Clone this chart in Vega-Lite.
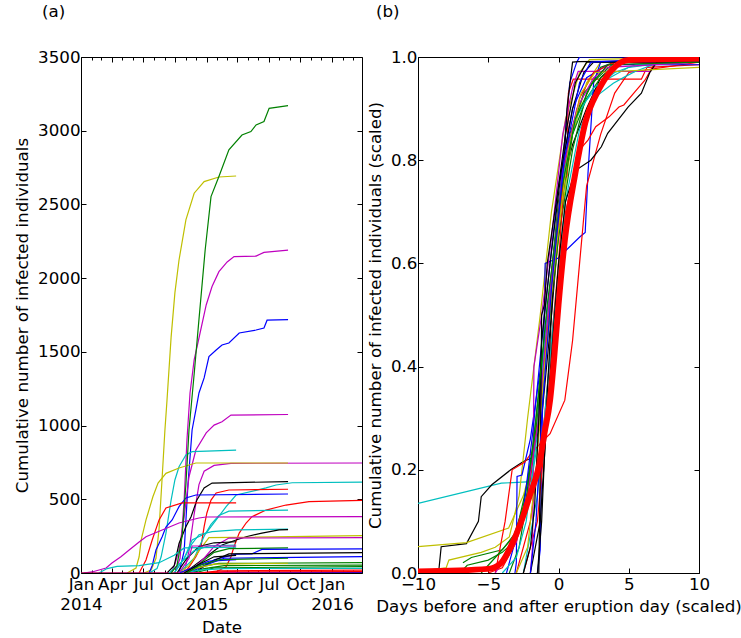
{
  "$schema": "https://vega.github.io/schema/vega-lite/v6.json",
  "padding": {"left": 14, "top": 3, "right": 0, "bottom": 0},
  "spacing": 3,
  "config": {
    "font": "DejaVu Sans",
    "view": {"stroke": "#000000", "strokeWidth": 1},
    "axis": {
      "labelFont": "DejaVu Sans", "labelFontSize": 16.7, "labelColor": "#000000",
      "titleFont": "DejaVu Sans", "titleFontSize": 16.7, "titleFontWeight": "normal", "titleColor": "#000000",
      "tickColor": "#000000", "tickWidth": 1, "domain": false, "grid": false, "labelOverlap": false, "labelFlush": false
    },
    "title": {"font": "DejaVu Sans", "fontSize": 16.7, "fontWeight": "normal", "color": "#000000"}
  },
  "datasets": {
    "pa": [
      {"s":"A1","d":"2014-09-20","v":0},{"s":"A1","d":"2014-10-07","v":50},{"s":"A1","d":"2014-10-22","v":250},{"s":"A1","d":"2014-11-02","v":600},{"s":"A1","d":"2014-11-11","v":970},{"s":"A1","d":"2014-11-26","v":1350},{"s":"A1","d":"2014-12-10","v":1720},{"s":"A1","d":"2014-12-28","v":2191},{"s":"A1","d":"2015-01-14","v":2553},{"s":"A1","d":"2015-02-06","v":2689},{"s":"A1","d":"2015-03-07","v":2870},{"s":"A1","d":"2015-04-14","v":2971},{"s":"A1","d":"2015-05-10","v":2994},{"s":"A1","d":"2015-05-25","v":3039},{"s":"A1","d":"2015-06-17","v":3062},{"s":"A1","d":"2015-07-02","v":3152},{"s":"A1","d":"2015-08-26","v":3170},
      {"s":"A2","d":"2014-07-03","v":0},{"s":"A2","d":"2014-07-24","v":20},{"s":"A2","d":"2014-08-07","v":100},{"s":"A2","d":"2014-08-16","v":300},{"s":"A2","d":"2014-08-25","v":650},{"s":"A2","d":"2014-09-02","v":970},{"s":"A2","d":"2014-09-08","v":1170},{"s":"A2","d":"2014-09-20","v":1600},{"s":"A2","d":"2014-10-01","v":1900},{"s":"A2","d":"2014-10-13","v":2123},{"s":"A2","d":"2014-11-02","v":2395},{"s":"A2","d":"2014-11-26","v":2576},{"s":"A2","d":"2014-12-25","v":2655},{"s":"A2","d":"2015-02-06","v":2686},{"s":"A2","d":"2015-03-28","v":2693},
      {"s":"A3","d":"2014-10-01","v":0},{"s":"A3","d":"2014-10-16","v":100},{"s":"A3","d":"2014-10-28","v":500},{"s":"A3","d":"2014-11-05","v":900},{"s":"A3","d":"2014-11-14","v":1221},{"s":"A3","d":"2014-11-26","v":1445},{"s":"A3","d":"2014-12-10","v":1594},{"s":"A3","d":"2014-12-31","v":1818},{"s":"A3","d":"2015-01-17","v":1943},{"s":"A3","d":"2015-02-06","v":2044},{"s":"A3","d":"2015-03-02","v":2110},{"s":"A3","d":"2015-03-22","v":2146},{"s":"A3","d":"2015-05-25","v":2150},{"s":"A3","d":"2015-06-17","v":2175},{"s":"A3","d":"2015-08-26","v":2190},
      {"s":"A4","d":"2014-10-13","v":0},{"s":"A4","d":"2014-10-28","v":150},{"s":"A4","d":"2014-11-08","v":600},{"s":"A4","d":"2014-11-20","v":970},{"s":"A4","d":"2014-12-01","v":1106},{"s":"A4","d":"2014-12-10","v":1221},{"s":"A4","d":"2014-12-25","v":1323},{"s":"A4","d":"2015-01-08","v":1468},{"s":"A4","d":"2015-01-29","v":1513},{"s":"A4","d":"2015-02-15","v":1547},{"s":"A4","d":"2015-03-07","v":1560},{"s":"A4","d":"2015-04-06","v":1628},{"s":"A4","d":"2015-05-25","v":1648},{"s":"A4","d":"2015-06-17","v":1662},{"s":"A4","d":"2015-06-26","v":1715},{"s":"A4","d":"2015-08-26","v":1718},
      {"s":"A5","d":"2014-09-20","v":0},{"s":"A5","d":"2014-10-01","v":60},{"s":"A5","d":"2014-10-13","v":156},{"s":"A5","d":"2014-10-28","v":381},{"s":"A5","d":"2014-11-11","v":653},{"s":"A5","d":"2014-12-01","v":834},{"s":"A5","d":"2014-12-31","v":950},{"s":"A5","d":"2015-01-23","v":1003},{"s":"A5","d":"2015-02-15","v":1026},{"s":"A5","d":"2015-03-13","v":1071},{"s":"A5","d":"2015-08-26","v":1075},
      {"s":"A6","d":"2014-07-18","v":0},{"s":"A6","d":"2014-08-10","v":30},{"s":"A6","d":"2014-08-22","v":110},{"s":"A6","d":"2014-09-05","v":271},{"s":"A6","d":"2014-09-20","v":495},{"s":"A6","d":"2014-10-01","v":631},{"s":"A6","d":"2014-10-13","v":721},{"s":"A6","d":"2014-11-02","v":800},{"s":"A6","d":"2014-11-20","v":823},{"s":"A6","d":"2015-03-28","v":834},
      {"s":"A8","d":"2014-10-28","v":0},{"s":"A8","d":"2014-11-11","v":150},{"s":"A8","d":"2014-11-26","v":400},{"s":"A8","d":"2014-12-10","v":600},{"s":"A8","d":"2014-12-25","v":690},{"s":"A8","d":"2015-01-23","v":730},{"s":"A8","d":"2015-03-13","v":744},{"s":"A8","d":"2016-03-28","v":746},
      {"s":"A7","d":"2014-05-15","v":0},{"s":"A7","d":"2014-06-10","v":34},{"s":"A7","d":"2014-06-19","v":110},{"s":"A7","d":"2014-06-25","v":224},{"s":"A7","d":"2014-07-09","v":360},{"s":"A7","d":"2014-07-15","v":407},{"s":"A7","d":"2014-07-29","v":517},{"s":"A7","d":"2014-08-13","v":610},{"s":"A7","d":"2014-09-05","v":676},{"s":"A7","d":"2014-10-13","v":712},{"s":"A7","d":"2014-12-01","v":746},{"s":"A7","d":"2015-08-26","v":746},
      {"s":"A9","d":"2014-09-08","v":0},{"s":"A9","d":"2014-09-29","v":50},{"s":"A9","d":"2014-10-13","v":200},{"s":"A9","d":"2014-11-02","v":314},{"s":"A9","d":"2014-11-17","v":382},{"s":"A9","d":"2014-12-04","v":495},{"s":"A9","d":"2014-12-25","v":577},{"s":"A9","d":"2015-01-17","v":610},{"s":"A9","d":"2015-08-26","v":620},
      {"s":"A10","d":"2014-09-29","v":0},{"s":"A10","d":"2014-10-28","v":100},{"s":"A10","d":"2014-11-20","v":224},{"s":"A10","d":"2014-12-31","v":271},{"s":"A10","d":"2015-01-29","v":360},{"s":"A10","d":"2015-02-27","v":450},{"s":"A10","d":"2015-03-28","v":529},{"s":"A10","d":"2015-06-23","v":577},{"s":"A10","d":"2015-07-22","v":597},{"s":"A10","d":"2015-09-07","v":612},{"s":"A10","d":"2016-03-28","v":617},
      {"s":"A11","d":"2014-10-28","v":0},{"s":"A11","d":"2014-11-11","v":40},{"s":"A11","d":"2014-12-01","v":110},{"s":"A11","d":"2014-12-16","v":180},{"s":"A11","d":"2014-12-25","v":314},{"s":"A11","d":"2015-01-02","v":407},{"s":"A11","d":"2015-01-14","v":495},{"s":"A11","d":"2015-01-29","v":543},{"s":"A11","d":"2015-03-07","v":563},{"s":"A11","d":"2015-08-26","v":568},
      {"s":"A12","d":"2014-07-18","v":0},{"s":"A12","d":"2014-07-27","v":50},{"s":"A12","d":"2014-08-07","v":156},{"s":"A12","d":"2014-08-25","v":246},{"s":"A12","d":"2014-09-05","v":312},{"s":"A12","d":"2014-09-23","v":360},{"s":"A12","d":"2014-10-13","v":450},{"s":"A12","d":"2014-11-02","v":509},{"s":"A12","d":"2014-12-01","v":529},{"s":"A12","d":"2015-08-26","v":536},
      {"s":"A13","d":"2014-06-19","v":0},{"s":"A13","d":"2014-07-09","v":88},{"s":"A13","d":"2014-07-27","v":224},{"s":"A13","d":"2014-08-16","v":360},{"s":"A13","d":"2014-09-05","v":441},{"s":"A13","d":"2014-10-22","v":475},{"s":"A13","d":"2015-03-28","v":475},
      {"s":"A14","d":"2015-01-23","v":0},{"s":"A14","d":"2015-02-27","v":43},{"s":"A14","d":"2015-03-13","v":110},{"s":"A14","d":"2015-03-22","v":180},{"s":"A14","d":"2015-04-06","v":271},{"s":"A14","d":"2015-04-26","v":339},{"s":"A14","d":"2015-05-13","v":382},{"s":"A14","d":"2015-06-23","v":427},{"s":"A14","d":"2015-08-20","v":461},{"s":"A14","d":"2015-10-26","v":484},{"s":"A14","d":"2016-03-28","v":492},
      {"s":"A15","d":"2014-10-13","v":0},{"s":"A15","d":"2014-11-26","v":100},{"s":"A15","d":"2014-12-25","v":250},{"s":"A15","d":"2015-01-14","v":330},{"s":"A15","d":"2015-02-06","v":390},{"s":"A15","d":"2015-03-07","v":420},{"s":"A15","d":"2015-08-26","v":427},
      {"s":"A16","d":"2014-01-09","v":0},{"s":"A16","d":"2014-02-02","v":7},{"s":"A16","d":"2014-03-15","v":34},{"s":"A16","d":"2014-04-01","v":68},{"s":"A16","d":"2014-04-27","v":110},{"s":"A16","d":"2014-05-21","v":156},{"s":"A16","d":"2014-06-19","v":210},{"s":"A16","d":"2014-07-09","v":246},{"s":"A16","d":"2014-08-25","v":292},{"s":"A16","d":"2014-10-13","v":339},{"s":"A16","d":"2014-12-10","v":373},{"s":"A16","d":"2014-12-31","v":380},{"s":"A16","d":"2016-03-28","v":382},
      {"s":"A17","d":"2014-09-29","v":0},{"s":"A17","d":"2014-10-28","v":100},{"s":"A17","d":"2014-11-20","v":200},{"s":"A17","d":"2014-12-10","v":260},{"s":"A17","d":"2015-01-17","v":280},{"s":"A17","d":"2015-03-28","v":292},{"s":"A17","d":"2015-08-26","v":298},
      {"s":"A18","d":"2014-10-28","v":0},{"s":"A18","d":"2014-11-26","v":50},{"s":"A18","d":"2014-12-31","v":110},{"s":"A18","d":"2015-02-15","v":190},{"s":"A18","d":"2015-03-28","v":224},{"s":"A18","d":"2015-04-26","v":246},{"s":"A18","d":"2015-06-11","v":271},{"s":"A18","d":"2015-07-31","v":292},{"s":"A18","d":"2015-08-26","v":294},
      {"s":"A19","d":"2014-10-13","v":0},{"s":"A19","d":"2014-11-11","v":50},{"s":"A19","d":"2014-12-10","v":150},{"s":"A19","d":"2015-01-08","v":240},{"s":"A19","d":"2016-03-28","v":253},
      {"s":"A20","d":"2014-11-11","v":0},{"s":"A20","d":"2014-12-25","v":100},{"s":"A20","d":"2015-01-23","v":180},{"s":"A20","d":"2015-03-07","v":237},{"s":"A20","d":"2016-03-28","v":240},
      {"s":"A21","d":"2014-10-07","v":0},{"s":"A21","d":"2014-11-05","v":100},{"s":"A21","d":"2014-12-10","v":180},{"s":"A21","d":"2015-01-23","v":205},{"s":"A21","d":"2015-03-28","v":212},
      {"s":"A22","d":"2014-02-22","v":0},{"s":"A22","d":"2014-03-18","v":30},{"s":"A22","d":"2014-04-16","v":45},{"s":"A22","d":"2014-06-19","v":50},{"s":"A22","d":"2014-08-16","v":70},{"s":"A22","d":"2014-09-29","v":120},{"s":"A22","d":"2014-10-28","v":170},{"s":"A22","d":"2015-03-28","v":175},
      {"s":"A23","d":"2014-10-28","v":0},{"s":"A23","d":"2014-12-10","v":60},{"s":"A23","d":"2015-01-23","v":140},{"s":"A23","d":"2015-03-07","v":165},{"s":"A23","d":"2015-08-26","v":170},
      {"s":"A24","d":"2014-11-26","v":0},{"s":"A24","d":"2015-01-23","v":90},{"s":"A24","d":"2015-03-28","v":128},{"s":"A24","d":"2015-05-13","v":130},{"s":"A24","d":"2015-06-11","v":160},{"s":"A24","d":"2016-03-28","v":163},
      {"s":"A25","d":"2014-11-26","v":0},{"s":"A25","d":"2015-01-08","v":70},{"s":"A25","d":"2015-03-07","v":130},{"s":"A25","d":"2016-03-28","v":138},
      {"s":"A26","d":"2014-11-11","v":0},{"s":"A26","d":"2014-12-25","v":50},{"s":"A26","d":"2015-02-21","v":100},{"s":"A26","d":"2016-03-28","v":111},
      {"s":"A27","d":"2014-10-28","v":0},{"s":"A27","d":"2014-12-10","v":40},{"s":"A27","d":"2015-02-06","v":65},{"s":"A27","d":"2016-03-28","v":70},
      {"s":"A28","d":"2014-10-13","v":0},{"s":"A28","d":"2014-11-26","v":30},{"s":"A28","d":"2015-01-23","v":60},{"s":"A28","d":"2015-08-26","v":66},
      {"s":"A29","d":"2014-11-11","v":0},{"s":"A29","d":"2014-12-25","v":30},{"s":"A29","d":"2015-02-21","v":50},{"s":"A29","d":"2016-03-28","v":54},
      {"s":"A30","d":"2014-11-26","v":0},{"s":"A30","d":"2015-01-23","v":35},{"s":"A30","d":"2016-03-28","v":43},
      {"s":"A31","d":"2014-10-28","v":0},{"s":"A31","d":"2014-12-10","v":20},{"s":"A31","d":"2015-02-21","v":30},{"s":"A31","d":"2016-03-28","v":32},
      {"s":"A34","d":"2014-01-01","v":0},{"s":"A34","d":"2014-11-26","v":0},{"s":"A34","d":"2015-01-23","v":3},{"s":"A34","d":"2016-03-28","v":4},
      {"s":"A35","d":"2014-11-11","v":0},{"s":"A35","d":"2015-01-08","v":5},{"s":"A35","d":"2015-03-28","v":8},
      {"s":"A32","d":"2014-01-01","v":0},{"s":"A32","d":"2014-12-10","v":0},{"s":"A32","d":"2015-02-06","v":15},{"s":"A32","d":"2016-03-28","v":20},
      {"s":"A33","d":"2014-12-25","v":0},{"s":"A33","d":"2015-02-21","v":7},{"s":"A33","d":"2016-03-28","v":9},
      {"s":"A36","d":"2014-10-13","v":0},{"s":"A36","d":"2014-11-26","v":40},{"s":"A36","d":"2015-01-08","v":80},{"s":"A36","d":"2015-03-28","v":90},
      {"s":"A37","d":"2014-11-05","v":0},{"s":"A37","d":"2014-12-10","v":50},{"s":"A37","d":"2015-02-06","v":90},{"s":"A37","d":"2015-08-26","v":100},
      {"s":"A38","d":"2014-10-28","v":0},{"s":"A38","d":"2014-12-10","v":60},{"s":"A38","d":"2015-01-23","v":110},{"s":"A38","d":"2015-03-28","v":120},
      {"s":"A39","d":"2014-09-14","v":0},{"s":"A39","d":"2014-10-13","v":60},{"s":"A39","d":"2014-11-26","v":150},{"s":"A39","d":"2015-01-08","v":185},{"s":"A39","d":"2015-03-28","v":190},
      {"s":"A40","d":"2014-10-13","v":0},{"s":"A40","d":"2014-11-11","v":100},{"s":"A40","d":"2014-11-20","v":183},{"s":"A40","d":"2015-03-28","v":183}
    ],
    "pb": [
      {"s":"B1","x":-10,"y":0.135},{"s":"B1","x":-4.07,"y":0.174},{"s":"B1","x":-1.93,"y":0.177},{"s":"B1","x":-1.5,"y":0.25},{"s":"B1","x":-1,"y":0.4},{"s":"B1","x":-0.5,"y":0.55},{"s":"B1","x":0,"y":0.7},{"s":"B1","x":0.5,"y":0.8},{"s":"B1","x":1.5,"y":0.9},{"s":"B1","x":3,"y":0.95},{"s":"B1","x":5,"y":0.98},{"s":"B1","x":8,"y":0.99},{"s":"B1","x":10,"y":0.99},
      {"s":"B2","x":-8.6,"y":0},{"s":"B2","x":-8.5,"y":0.01},{"s":"B2","x":-8.35,"y":0.051},{"s":"B2","x":-6.55,"y":0.057},{"s":"B2","x":-5.7,"y":0.1},{"s":"B2","x":-5.5,"y":0.148},{"s":"B2","x":-4.75,"y":0.171},{"s":"B2","x":-3.4,"y":0.2},{"s":"B2","x":-2.5,"y":0.216},{"s":"B2","x":-1.9,"y":0.223},{"s":"B2","x":-1.2,"y":0.3},{"s":"B2","x":-0.5,"y":0.5},{"s":"B2","x":0.3,"y":0.755},{"s":"B2","x":1,"y":0.83},{"s":"B2","x":2,"y":0.9},{"s":"B2","x":3,"y":0.96},{"s":"B2","x":4,"y":0.985},{"s":"B2","x":10,"y":0.99},
      {"s":"B3","x":-10,"y":0.051},{"s":"B3","x":-6.55,"y":0.059},{"s":"B3","x":-3.55,"y":0.087},{"s":"B3","x":-2.5,"y":0.15},{"s":"B3","x":-1.8,"y":0.22},{"s":"B3","x":-1,"y":0.4},{"s":"B3","x":0,"y":0.65},{"s":"B3","x":1,"y":0.85},{"s":"B3","x":2,"y":0.95},{"s":"B3","x":3,"y":0.99},{"s":"B3","x":10,"y":0.995},
      {"s":"B4","x":-10,"y":0.003},{"s":"B4","x":-8,"y":0.01},{"s":"B4","x":-7.8,"y":0.025},{"s":"B4","x":-5.5,"y":0.04},{"s":"B4","x":-4.5,"y":0.05},{"s":"B4","x":-3.5,"y":0.07},{"s":"B4","x":-2.8,"y":0.15},{"s":"B4","x":-2.2,"y":0.3},{"s":"B4","x":-1.3,"y":0.5},{"s":"B4","x":-0.5,"y":0.7},{"s":"B4","x":0.5,"y":0.88},{"s":"B4","x":1.5,"y":0.97},{"s":"B4","x":2.2,"y":0.995},{"s":"B4","x":10,"y":1},
      {"s":"B5","x":-6.8,"y":0.02},{"s":"B5","x":-6.2,"y":0.03},{"s":"B5","x":-4,"y":0.045},{"s":"B5","x":-3,"y":0.08},{"s":"B5","x":-2,"y":0.2},{"s":"B5","x":-1,"y":0.4},{"s":"B5","x":0,"y":0.65},{"s":"B5","x":1,"y":0.82},{"s":"B5","x":2,"y":0.93},{"s":"B5","x":3,"y":0.98},{"s":"B5","x":4,"y":0.99},{"s":"B5","x":10,"y":1},
      {"s":"B6","x":-1.5,"y":0},{"s":"B6","x":-1.3,"y":0.045},{"s":"B6","x":-1.15,"y":0.3},{"s":"B6","x":-0.95,"y":0.6},{"s":"B6","x":-0.05,"y":0.61},{"s":"B6","x":1.55,"y":0.652},{"s":"B6","x":1.9,"y":0.66},{"s":"B6","x":2.1,"y":0.775},{"s":"B6","x":2.5,"y":0.95},{"s":"B6","x":3,"y":0.99},{"s":"B6","x":10,"y":0.99},
      {"s":"B7","x":-3.1,"y":0},{"s":"B7","x":-3.0,"y":0.02},{"s":"B7","x":-2.95,"y":0.187},{"s":"B7","x":-2.6,"y":0.19},{"s":"B7","x":-2,"y":0.26},{"s":"B7","x":-1,"y":0.45},{"s":"B7","x":0,"y":0.7},{"s":"B7","x":0.8,"y":0.95},{"s":"B7","x":1.3,"y":0.99},{"s":"B7","x":1.5,"y":1},{"s":"B7","x":10,"y":1},
      {"s":"B8","x":-3,"y":0},{"s":"B8","x":-2,"y":0.1},{"s":"B8","x":-1,"y":0.3},{"s":"B8","x":0,"y":0.6},{"s":"B8","x":0.4,"y":0.76},{"s":"B8","x":0.6,"y":0.77},{"s":"B8","x":0.7,"y":0.93},{"s":"B8","x":1.05,"y":0.957},{"s":"B8","x":5.9,"y":0.957},{"s":"B8","x":6.3,"y":0.98},{"s":"B8","x":10,"y":0.985},
      {"s":"B9","x":-2.5,"y":0},{"s":"B9","x":-1.5,"y":0.1},{"s":"B9","x":-0.5,"y":0.4},{"s":"B9","x":0.5,"y":0.7},{"s":"B9","x":1.5,"y":0.82},{"s":"B9","x":2.1,"y":0.839},{"s":"B9","x":2.65,"y":0.865},{"s":"B9","x":3.6,"y":0.884},{"s":"B9","x":4.3,"y":0.903},{"s":"B9","x":4.65,"y":0.907},{"s":"B9","x":5.45,"y":0.933},{"s":"B9","x":6.15,"y":0.955},{"s":"B9","x":6.85,"y":0.988},{"s":"B9","x":8.75,"y":0.991},{"s":"B9","x":10,"y":1},
      {"s":"B10","x":-4.5,"y":0},{"s":"B10","x":-3.8,"y":0.1},{"s":"B10","x":-3.3,"y":0.2},{"s":"B10","x":-2.4,"y":0.215},{"s":"B10","x":-2,"y":0.23},{"s":"B10","x":-1.5,"y":0.245},{"s":"B10","x":-0.6,"y":0.27},{"s":"B10","x":0.45,"y":0.335},{"s":"B10","x":1.0,"y":0.45},{"s":"B10","x":1.5,"y":0.6},{"s":"B10","x":2.0,"y":0.75},{"s":"B10","x":3,"y":0.85},{"s":"B10","x":4,"y":0.93},{"s":"B10","x":5,"y":0.97},{"s":"B10","x":10,"y":0.99},
      {"s":"B11","x":-2,"y":0},{"s":"B11","x":-1.85,"y":0.05},{"s":"B11","x":-1.8,"y":0.17},{"s":"B11","x":-1.75,"y":0.4},{"s":"B11","x":-1.2,"y":0.5},{"s":"B11","x":-0.5,"y":0.65},{"s":"B11","x":0.3,"y":0.85},{"s":"B11","x":1,"y":0.94},{"s":"B11","x":1.4,"y":0.972},{"s":"B11","x":6.6,"y":0.972},
      {"s":"B12","x":-2.5,"y":0},{"s":"B12","x":-1.5,"y":0.15},{"s":"B12","x":-0.5,"y":0.45},{"s":"B12","x":0.5,"y":0.72},{"s":"B12","x":1.5,"y":0.86},{"s":"B12","x":2.5,"y":0.92},{"s":"B12","x":3.9,"y":0.949},{"s":"B12","x":4.75,"y":0.962},{"s":"B12","x":5.45,"y":0.972},{"s":"B12","x":7,"y":0.988},{"s":"B12","x":10,"y":0.99},
      {"s":"B13","x":-1.5,"y":0},{"s":"B13","x":-1.2,"y":0.1},{"s":"B13","x":-0.8,"y":0.35},{"s":"B13","x":-0.3,"y":0.6},{"s":"B13","x":0.32,"y":0.755},{"s":"B13","x":0.6,"y":0.9},{"s":"B13","x":1.0,"y":0.99},{"s":"B13","x":1.4,"y":0.991},{"s":"B13","x":10,"y":0.993},
      {"s":"B14","x":-2,"y":0},{"s":"B14","x":-1.3,"y":0.1},{"s":"B14","x":-0.7,"y":0.35},{"s":"B14","x":0,"y":0.6},{"s":"B14","x":0.5,"y":0.72},{"s":"B14","x":1.2,"y":0.78},{"s":"B14","x":2.3,"y":0.8},{"s":"B14","x":3.05,"y":0.826},{"s":"B14","x":3.5,"y":0.852},{"s":"B14","x":4.95,"y":0.903},{"s":"B14","x":5.9,"y":0.93},{"s":"B14","x":6.5,"y":0.97},{"s":"B14","x":7,"y":0.99},{"s":"B14","x":10,"y":0.995},
      {"s":"B15","x":-5.5,"y":0},{"s":"B15","x":-4.5,"y":0.03},{"s":"B15","x":-3.2,"y":0.07},{"s":"B15","x":-2.5,"y":0.13},{"s":"B15","x":-1.8,"y":0.25},{"s":"B15","x":-1,"y":0.45},{"s":"B15","x":0,"y":0.68},{"s":"B15","x":1,"y":0.85},{"s":"B15","x":2,"y":0.92},{"s":"B15","x":3,"y":0.96},{"s":"B15","x":4.5,"y":0.99},{"s":"B15","x":10,"y":1},
      {"s":"B16","x":-3.5,"y":0},{"s":"B16","x":-2.8,"y":0.05},{"s":"B16","x":-2.2,"y":0.15},{"s":"B16","x":-1.5,"y":0.3},{"s":"B16","x":-0.8,"y":0.5},{"s":"B16","x":0,"y":0.72},{"s":"B16","x":0.8,"y":0.85},{"s":"B16","x":1.8,"y":0.93},{"s":"B16","x":2.8,"y":0.96},{"s":"B16","x":4,"y":0.99},{"s":"B16","x":10,"y":1},
      {"s":"B17","x":-3.7,"y":0},{"s":"B17","x":-3.2,"y":0.05},{"s":"B17","x":-2.5,"y":0.12},{"s":"B17","x":-1.8,"y":0.28},{"s":"B17","x":-1,"y":0.5},{"s":"B17","x":0,"y":0.75},{"s":"B17","x":1,"y":0.9},{"s":"B17","x":2,"y":0.96},{"s":"B17","x":3.5,"y":0.985},{"s":"B17","x":10,"y":0.985},
      {"s":"B18","x":-5,"y":0},{"s":"B18","x":-4,"y":0.01},{"s":"B18","x":-3,"y":0.06},{"s":"B18","x":-2,"y":0.18},{"s":"B18","x":-1.3,"y":0.33},{"s":"B18","x":-0.5,"y":0.55},{"s":"B18","x":0.5,"y":0.8},{"s":"B18","x":1.5,"y":0.92},{"s":"B18","x":2.5,"y":0.97},{"s":"B18","x":4,"y":0.99},{"s":"B18","x":10,"y":1},
      {"s":"B19","x":-4,"y":0},{"s":"B19","x":-3,"y":0.03},{"s":"B19","x":-2.3,"y":0.1},{"s":"B19","x":-1.6,"y":0.25},{"s":"B19","x":-0.8,"y":0.5},{"s":"B19","x":0.2,"y":0.75},{"s":"B19","x":1.2,"y":0.88},{"s":"B19","x":2.5,"y":0.94},{"s":"B19","x":4,"y":0.97},{"s":"B19","x":5.5,"y":0.985},{"s":"B19","x":10,"y":0.99},
      {"s":"B20","x":-4.5,"y":0},{"s":"B20","x":-3.8,"y":0.03},{"s":"B20","x":-3,"y":0.06},{"s":"B20","x":-2.3,"y":0.14},{"s":"B20","x":-1.4,"y":0.3},{"s":"B20","x":-0.6,"y":0.55},{"s":"B20","x":0.3,"y":0.78},{"s":"B20","x":1.3,"y":0.9},{"s":"B20","x":2.5,"y":0.96},{"s":"B20","x":3.5,"y":0.98},{"s":"B20","x":10,"y":0.99},
      {"s":"B21","x":-3,"y":0},{"s":"B21","x":-2.2,"y":0.05},{"s":"B21","x":-1.6,"y":0.2},{"s":"B21","x":-1,"y":0.4},{"s":"B21","x":-0.2,"y":0.62},{"s":"B21","x":0.7,"y":0.82},{"s":"B21","x":1.6,"y":0.93},{"s":"B21","x":2.6,"y":0.97},{"s":"B21","x":10,"y":0.98},
      {"s":"B22","x":-2.5,"y":0},{"s":"B22","x":-2,"y":0.05},{"s":"B22","x":-1.7,"y":0.13},{"s":"B22","x":-1.4,"y":0.3},{"s":"B22","x":-1.2,"y":0.45},{"s":"B22","x":-0.6,"y":0.6},{"s":"B22","x":0.2,"y":0.78},{"s":"B22","x":1,"y":0.9},{"s":"B22","x":1.8,"y":0.97},{"s":"B22","x":2.5,"y":0.99},{"s":"B22","x":10,"y":0.995},
      {"s":"B23","x":-1.4,"y":0},{"s":"B23","x":-1.3,"y":0.2},{"s":"B23","x":-1.2,"y":0.5},{"s":"B23","x":-1,"y":0.52},{"s":"B23","x":-0.8,"y":0.6},{"s":"B23","x":0,"y":0.75},{"s":"B23","x":0.5,"y":0.85},{"s":"B23","x":1.2,"y":0.95},{"s":"B23","x":2,"y":0.99},{"s":"B23","x":10,"y":0.99},
      {"s":"B25","x":-7,"y":0},{"s":"B25","x":-6.5,"y":0.015},{"s":"B25","x":-5,"y":0.025},{"s":"B25","x":-4,"y":0.04},{"s":"B25","x":-3.2,"y":0.06},{"s":"B25","x":-2.4,"y":0.12},{"s":"B25","x":-1.6,"y":0.3},{"s":"B25","x":-0.8,"y":0.52},{"s":"B25","x":0.2,"y":0.74},{"s":"B25","x":1.2,"y":0.88},{"s":"B25","x":2.4,"y":0.95},{"s":"B25","x":3.5,"y":0.985},{"s":"B25","x":10,"y":0.99},
      {"s":"B26","x":-2,"y":0},{"s":"B26","x":-1.6,"y":0.1},{"s":"B26","x":-1.2,"y":0.3},{"s":"B26","x":-0.5,"y":0.55},{"s":"B26","x":0.4,"y":0.8},{"s":"B26","x":1.5,"y":0.95},{"s":"B26","x":2.3,"y":0.99},{"s":"B26","x":10,"y":1},
      {"s":"R","x":-10,"y":0.003},{"s":"R","x":-5,"y":0.008},{"s":"R","x":-4.1,"y":0.019},{"s":"R","x":-3.4,"y":0.051},{"s":"R","x":-2.7,"y":0.096},{"s":"R","x":-2.0,"y":0.154},{"s":"R","x":-1.4,"y":0.206},{"s":"R","x":-1.0,"y":0.271},{"s":"R","x":-0.6,"y":0.335},{"s":"R","x":-0.3,"y":0.42},{"s":"R","x":0,"y":0.52},{"s":"R","x":0.45,"y":0.645},{"s":"R","x":1.2,"y":0.775},{"s":"R","x":1.9,"y":0.872},{"s":"R","x":2.85,"y":0.936},{"s":"R","x":3.8,"y":0.975},{"s":"R","x":5,"y":0.994},{"s":"R","x":10,"y":0.997}
    ]
  },
  "resolve": {"scale": {"color": "independent"}},
  "hconcat": [
    {
      "width": 281, "height": 516,
      "title": {"text": "(a)", "anchor": "start", "frame": "group", "dx": -39, "offset": 28},
      "data": {"name": "pa"},
      "resolve": {"axis": {"x": "independent", "y": "independent"}},
      "layer": [
        {
          "transform": [{"filter": "datum.s != 'A1'"}],
          "mark": {"type": "line", "strokeWidth": 1.2, "clip": true},
          "encoding": {
            "x": {"field": "d", "type": "temporal",
              "scale": {"type": "utc", "domain": [{"year": 2014, "month": 1, "date": 1, "utc": true}, {"year": 2016, "month": 3, "date": 28, "utc": true}]},
              "axis": {"orient": "bottom", "title": "Date", "tickCount": {"interval": "month", "step": 1},
                "tickSize": {"condition": {"test": "utcmonth(datum.value) % 3 == 0", "value": -5}, "value": -3},
                "labelExpr": "utcmonth(datum.value) % 3 == 0 ? (utcmonth(datum.value) == 0 ? [utcFormat(datum.value, '%b'), utcFormat(datum.value, '%Y')] : utcFormat(datum.value, '%b')) : ''",
                "labelLineHeight": 20, "labelPadding": 8, "titlePadding": 7}},
            "y": {"field": "v", "type": "quantitative",
              "scale": {"domain": [0, 3500], "nice": false},
              "axis": {"orient": "left", "values": [0, 500, 1000, 1500, 2000, 2500, 3000, 3500], "format": "d", "tickSize": -5, "labelPadding": 6, "title": "Cumulative number of infected individuals", "titlePadding": 6}},
            "color": {"field": "s", "type": "nominal", "legend": null,
              "scale": {"domain": ["A1","A2","A3","A4","A5","A6","A7","A8","A9","A10","A11","A12","A13","A14","A15","A16","A17","A18","A19","A20","A21","A22","A23","A24","A25","A26","A27","A28","A29","A30","A31","A32","A33","A34","A35","A36","A37","A38","A39","A40"],
                "range": ["#008000","#bfbf00","#bf00bf","#0000ff","#bf00bf","#00bfbf","#bfbf00","#bf00bf","#000000","#00bfbf","#ff0000","#0000ff","#ff0000","#ff0000","#00bfbf","#bf00bf","#00bfbf","#000000","#bfbf00","#bf00bf","#000000","#00bfbf","#008000","#0000ff","#000000","#0000ff","#008000","#bfbf00","#008000","#008000","#00bfbf","#ff0000","#ff0000","#0000ff","#bf00bf","#0000ff","#008000","#000000","#00bfbf","#bf00bf"]}}
          }
        },
        {
          "transform": [{"filter": "datum.s == 'A1'"}],
          "mark": {"type": "line", "strokeWidth": 1.2, "clip": true},
          "encoding": {
            "x": {"field": "d", "type": "temporal",
              "axis": {"orient": "top", "title": null, "labels": false, "tickCount": {"interval": "month", "step": 1},
                "tickSize": {"condition": {"test": "utcmonth(datum.value) % 3 == 0", "value": -5}, "value": -3}}},
            "y": {"field": "v", "type": "quantitative",
              "axis": {"orient": "right", "title": null, "labels": false, "values": [0, 500, 1000, 1500, 2000, 2500, 3000, 3500], "tickSize": -5}},
            "color": {"field": "s", "type": "nominal", "legend": null}
          }
        }
      ]
    },
    {
      "width": 281, "height": 516,
      "title": {"text": "(b)", "anchor": "start", "frame": "group", "dx": -42, "offset": 28},
      "data": {"name": "pb"},
      "resolve": {"axis": {"x": "independent", "y": "independent"}},
      "layer": [
        {
          "transform": [{"filter": "datum.s != 'R'"}],
          "mark": {"type": "line", "strokeWidth": 1.2, "clip": true},
          "encoding": {
            "x": {"field": "x", "type": "quantitative", "scale": {"domain": [-10, 10], "nice": false, "zero": false},
              "axis": {"orient": "bottom", "values": [-10, -5, 0, 5, 10], "format": "d", "tickSize": -5, "labelPadding": 8, "title": "Days before and after eruption day (scaled)", "titlePadding": 6}},
            "y": {"field": "y", "type": "quantitative", "scale": {"domain": [0, 1], "nice": false},
              "axis": {"orient": "left", "values": [0, 0.2, 0.4, 0.6, 0.8, 1], "format": ".1f", "tickSize": -5, "labelPadding": 6, "title": "Cumulative number of infected individuals (scaled)", "titlePadding": 6}},
            "color": {"field": "s", "type": "nominal", "legend": null,
              "scale": {"domain": ["B1","B2","B3","B4","B5","B6","B7","B8","B9","B10","B11","B12","B13","B14","B15","B16","B17","B18","B19","B20","B21","B22","B23","B25","B26","R"],
                "range": ["#00bfbf","#000000","#bfbf00","#bfbf00","#008000","#0000ff","#0000ff","#ff0000","#ff0000","#ff0000","#bf00bf","#00bfbf","#000000","#000000","#008000","#008000","#0000ff","#ff0000","#00bfbf","#bf00bf","#bfbf00","#000000","#000000","#008000","#0000ff","#ff0000"]}}
          }
        },
        {
          "transform": [{"filter": "datum.s == 'R'"}],
          "mark": {"type": "line", "strokeWidth": 6, "interpolate": "monotone", "clip": true},
          "encoding": {
            "x": {"field": "x", "type": "quantitative",
              "axis": {"orient": "top", "title": null, "labels": false, "values": [-10, -5, 0, 5, 10], "tickSize": -5}},
            "y": {"field": "y", "type": "quantitative",
              "axis": {"orient": "right", "title": null, "labels": false, "values": [0, 0.2, 0.4, 0.6, 0.8, 1], "tickSize": -5}},
            "color": {"field": "s", "type": "nominal", "legend": null}
          }
        }
      ]
    }
  ]
}
